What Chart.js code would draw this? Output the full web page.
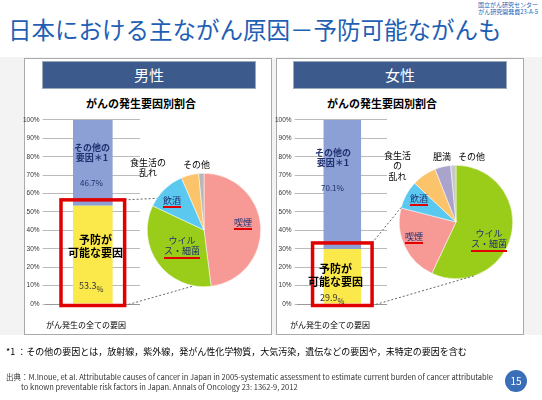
<!DOCTYPE html>
<html><head><meta charset="utf-8">
<script src="https://cdn.jsdelivr.net/npm/chart.js@4"></script>
<style>
body{margin:0;width:542px;height:400px;overflow:hidden;background:#fff;font-family:"Noto Sans CJK JP",sans-serif;position:relative}
.a{position:absolute;white-space:nowrap;line-height:1.15}
canvas.c{position:absolute}
.u{border-bottom:2px solid #e00000}
.panel{position:absolute;border:1px solid #aaa;background:#fff}
.hd{position:absolute;background:#3c5a8c;color:#fff;font-size:15px;text-align:center;line-height:26px;border:1px solid #9ab}
</style></head><body>
<div class="a" style="left:8px;top:16px;font-size:23.5px;color:#1f5fb4">日本における主ながん原因－予防可能ながんも</div>
<div class="a" style="left:478px;top:1px;font-size:6px;color:#1f5fb4;text-align:right;line-height:1.2">国立がん研究センター<br>がん研究開発費23-A-5</div>
<div style="position:absolute;left:0;top:57px;width:542px;height:278px;background:#f3f3f3"></div>
<div class="panel" style="left:24px;top:58px;width:246px;height:275px"></div>
<div class="panel" style="left:276px;top:58px;width:246px;height:275px"></div>
<div class="hd" style="left:42px;top:61px;width:212px">男性</div>
<div class="hd" style="left:293px;top:61px;width:212px">女性</div>
<div class="a" style="left:86px;top:97px;font-size:11px;font-weight:bold">がんの発生要因別割合</div>
<div class="a" style="left:327px;top:97px;font-size:11px;font-weight:bold">がんの発生要因別割合</div>
<canvas class="c" id="b1" style="left:20px;top:113px;width:120px;height:203px"></canvas>
<canvas class="c" id="b2" style="left:272px;top:113px;width:115px;height:203px"></canvas>
<canvas class="c" id="p1" style="left:147px;top:173px;width:114px;height:114px"></canvas>
<canvas class="c" id="p2" style="left:399px;top:165px;width:114px;height:114px"></canvas>
<canvas class="c" id="ov" style="left:0;top:0;width:542px;height:400px;pointer-events:none"></canvas>
<div class="a" style="left:46px;top:320px;font-size:8px">がん発生の全ての要因</div>
<div class="a" style="left:290px;top:320px;font-size:8px">がん発生の全ての要因</div>
<div class="a" style="left:74px;top:143px;font-size:9px;font-weight:bold;color:#1f2f6f;text-align:center">その他の<br>要因＊1</div>
<div class="a" style="left:80px;top:178px;font-size:8px;color:#1f2f6f">46.7%</div>
<div class="a" style="left:68px;top:233px;font-size:11px;font-weight:bold;text-align:center">予防が<br>可能な要因</div>
<div class="a" style="left:79px;top:281px;font-size:9px;color:#333">53.3<sub>%</sub></div>
<div class="a" style="left:315px;top:148px;font-size:9px;font-weight:bold;color:#1f2f6f;text-align:center">その他の<br>要因＊1</div>
<div class="a" style="left:321px;top:183px;font-size:8px;color:#1f2f6f">70.1%</div>
<div class="a" style="left:308px;top:262px;font-size:11px;font-weight:bold;text-align:center">予防が<br>可能な要因</div>
<div class="a" style="left:320px;top:293px;font-size:9px;color:#333">29.9<sub>%</sub></div>
<div class="a" style="left:130px;top:158px;font-size:9px;text-align:center">食生活の<br>乱れ</div>
<div class="a" style="left:183px;top:160px;font-size:9px">その他</div>
<div class="a u" style="left:163px;top:196px;font-size:9px;color:#1f2f6f">飲酒</div>
<div class="a u" style="left:234px;top:218px;font-size:9px;color:#1f2f6f">喫煙</div>
<div class="a" style="left:164px;top:236px;font-size:9px;color:#1f2f6f;text-align:center">ウイル<br><span class="u">ス・細菌</span></div>
<div class="a" style="left:384px;top:151px;font-size:9px;text-align:center">食生活<br>の<br>乱れ</div>
<div class="a" style="left:433px;top:152px;font-size:9px">肥満</div>
<div class="a" style="left:458px;top:152px;font-size:9px">その他</div>
<div class="a u" style="left:410px;top:194px;font-size:9px;color:#1f2f6f">飲酒</div>
<div class="a u" style="left:405px;top:232px;font-size:9px;color:#1f2f6f">喫煙</div>
<div class="a" style="left:471px;top:229px;font-size:9px;color:#1f2f6f;text-align:center">ウイル<br><span class="u">ス・細菌</span></div>
<div class="a" style="left:6px;top:347px;font-size:9px">*1 ：その他の要因とは，放射線，紫外線，発がん性化学物質，大気汚染，遺伝などの要因や，未特定の要因を含む</div>
<div class="a" style="left:6px;top:372px;font-size:7.5px;color:#333;line-height:1.3">出典：M.Inoue, et al. Attributable causes of cancer in Japan in 2005-systematic assessment to estimate current burden of cancer attributable<br>&nbsp;&nbsp;&nbsp;&nbsp;&nbsp;&nbsp;&nbsp;&nbsp;&nbsp;to known preventable risk factors in Japan. Annals of Oncology 23: 1362-9, 2012</div>
<div class="a" style="left:505px;top:370px;width:22px;height:22px;border-radius:11px;background:#3a6fb8;color:#fff;font-size:10px;text-align:center;line-height:22px">15</div>
<script>
const barCategory=["がん発生の全ての要因"];
const malePreventable=[53.3], maleOther=[46.7];
const femalePreventable=[29.9], femaleOther=[70.1];
const yTicks=[0,10,20,30,40,50,60,70,80,90,100];
const maleFactors=["喫煙","ウイルス・細菌","飲酒","食生活の乱れ","その他"];
const maleShares=[48,34,11.5,5,1.5];
const maleColors=["#f79a96","#9acd1a","#5bc8f0","#fbc46a","#b8b8b8"];
const femaleFactors=["ウイルス・細菌","喫煙","飲酒","食生活の乱れ","肥満","その他"];
const femaleShares=[57,22,8,7,4.5,1.5];
const femaleColors=["#9acd1a","#f79a96","#5bc8f0","#fbc46a","#aaa4cc","#c8c8c8"];
Chart.defaults.animation=false;Chart.defaults.responsive=false;
function bar(id,p,o){
  const el=document.getElementById(id);el.width=parseInt(el.style.width);el.height=parseInt(el.style.height);
  return new Chart(el,{type:'bar',data:{labels:barCategory,datasets:[
    {data:p,backgroundColor:'#fbe94b',barPercentage:0.42,categoryPercentage:1},
    {data:o,backgroundColor:'#8da0d6',barPercentage:0.42,categoryPercentage:1}]},
    options:{devicePixelRatio:1,layout:{padding:{top:6,bottom:4}},plugins:{legend:{display:false},tooltip:{enabled:false}},
    scales:{x:{stacked:true,ticks:{display:false},grid:{display:false},border:{color:'#999'}},
      y:{stacked:true,min:0,max:100,afterBuildTicks:a=>{a.ticks=yTicks.map(v=>({value:v}))},
        ticks:{font:{size:6.5},color:'#333',callback:v=>v+'%'},grid:{color:'#bbb',tickLength:3},border:{display:false}}}}});
}
function pie(id,labels,d,c){
  const el=document.getElementById(id);el.width=114;el.height=114;
  return new Chart(el,{type:'pie',data:{labels,datasets:[{data:d,backgroundColor:c,borderColor:'#fff',borderWidth:0.5}]},
    options:{devicePixelRatio:1,plugins:{legend:{display:false},tooltip:{enabled:false}}}});
}
const b1=bar('b1',malePreventable,maleOther), b2=bar('b2',femalePreventable,femaleOther);
const p1=pie('p1',maleFactors,maleShares,maleColors), p2=pie('p2',femaleFactors,femaleShares,femaleColors);
const ov=document.getElementById('ov');ov.width=542;ov.height=400;const g=ov.getContext('2d');
function link(b,p,a1,a2,padX){
  const bc=b.canvas,pc=p.canvas;const e=b.getDatasetMeta(0).data[0];
  const ox=bc.offsetLeft,oy=bc.offsetTop;
  const L=ox+e.x-e.width/2-padX,R=ox+e.x+e.width/2+padX,T=oy+e.y-6,B=oy+e.base+2;
  const pe=p.getDatasetMeta(0).data[0];const cx=pc.offsetLeft+pe.x,cy=pc.offsetTop+pe.y,r=pe.outerRadius;
  g.strokeStyle='#666';g.lineWidth=1;g.setLineDash([2,2]);g.beginPath();
  g.moveTo(R,T);g.lineTo(cx+r*Math.cos(a1),cy+r*Math.sin(a1));
  g.moveTo(R,B);g.lineTo(cx+r*Math.cos(a2),cy+r*Math.sin(a2));g.stroke();
  g.setLineDash([]);g.strokeStyle='#e00000';g.lineWidth=3.5;g.strokeRect(L,T,R-L,B-T);
}
link(b1,p1,-2.55,1.75,12);
link(b2,p2,3.4,1.25,11);
</script></body></html>
